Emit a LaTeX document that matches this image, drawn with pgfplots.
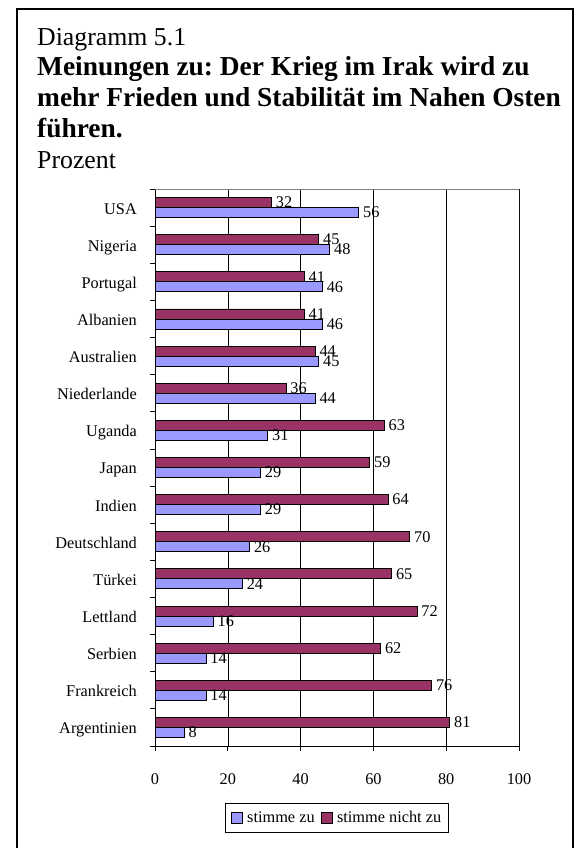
\documentclass[border=0pt]{standalone}
\usepackage{pgfplots}
\pgfplotsset{compat=1.18}
\usepackage{fontspec}
\setmainfont{Liberation Serif}
\definecolor{zublau}{HTML}{9999FF}
\definecolor{nichtrot}{HTML}{993366}
\newcommand{\lab}{\fontsize{16.3bp}{18bp}\selectfont}
\frenchspacing
\begin{document}
\begin{tikzpicture}[x=1bp,y=1bp]
  \path[use as bounding box] (0,0) rectangle (578,848);
  % outer frame, open at the bottom (cropped)
  \draw[line width=2bp] (17,-5) -- (17,839) -- (573,839) -- (573,-5);

  % heading lines
  \node[anchor=base west,inner sep=0pt] at (37,802) {\fontsize{25.8bp}{30bp}\selectfont Diagramm 5.1};
  \node[anchor=base west,inner sep=0pt] at (37,772) {\fontsize{27.4bp}{30bp}\selectfont\bfseries Meinungen zu: Der Krieg im Irak wird zu};
  \node[anchor=base west,inner sep=0pt] at (37,741) {\fontsize{27.4bp}{30bp}\selectfont\bfseries mehr Frieden und Stabilität im Nahen Osten};
  \node[anchor=base west,inner sep=0pt] at (37,710) {\fontsize{27.4bp}{30bp}\selectfont\bfseries führen.};
  \node[anchor=base west,inner sep=0pt] at (37,679) {\fontsize{25.8bp}{30bp}\selectfont Prozent};

  \begin{axis}[
    at={(155bp,102bp)}, anchor=south west,
    scale only axis, width=364bp, height=557bp,
    xbar=0pt, bar width=10bp,
    xmin=0, xmax=100, ymin=-0.5, ymax=14.5,
    enlargelimits=false,
    axis x line*=bottom, axis y line*=left,
    axis line style={black, line width=0.8bp},
    xtick={0,20,...,100},
    ytick={0,...,14},
    yticklabels={Argentinien,Frankreich,Serbien,Lettland,Türkei,Deutschland,Indien,Japan,Uganda,Niederlande,Australien,Albanien,Portugal,Nigeria,USA},
    minor ytick={-0.5,0.5,...,14.5},
    major y tick style={draw=none},
    minor y tick style={black, line width=0.8bp},
    x tick style={black, line width=0.8bp},
    tick align=outside,
    major tick length=5bp, minor tick length=5bp,
    xmajorgrids, major x grid style={black, line width=0.6bp},
    /pgf/number format/assume math mode=true,
    tick label style={font=\lab},
    xticklabel style={anchor=north, inner sep=0pt, yshift=-22bp},
    yticklabel style={anchor=base east, inner sep=0pt, xshift=-13bp, yshift=-6.5bp},
    nodes near coords,
    every node near coord/.append style={font=\lab, anchor=base west, inner sep=0pt, xshift=4bp, yshift=-5.3bp, black},
    legend columns=2,
    legend style={at={(0.5,-0.1023)}, anchor=north, draw=black, line width=0.8bp,
      font=\lab, inner xsep=5bp, inner ysep=6bp,
      /tikz/every even column/.append style={column sep=4bp}},
    legend image code/.code={\draw[#1, line width=0.8bp] (0bp,-5.5bp) rectangle (11bp,5.5bp);
      \path[draw=none, fill=none] (0bp,0bp) -- (14bp,0bp);},
  ]
    \addplot[fill=zublau, draw=black, line width=0.8bp] coordinates {
      (8,0) (14,1) (14,2) (16,3) (24,4) (26,5) (29,6) (29,7)
      (31,8) (44,9) (45,10) (46,11) (46,12) (48,13) (56,14)};
    \addplot[fill=nichtrot, draw=black, line width=0.8bp] coordinates {
      (81,0) (76,1) (62,2) (72,3) (65,4) (70,5) (64,6) (59,7)
      (63,8) (36,9) (44,10) (41,11) (41,12) (45,13) (32,14)};
    \legend{stimme zu, stimme nicht zu}
    \draw[gray, line width=0.8bp] (rel axis cs:0,1) -- (rel axis cs:1,1) -- (rel axis cs:1,0);
  \end{axis}
\end{tikzpicture}
\end{document}
